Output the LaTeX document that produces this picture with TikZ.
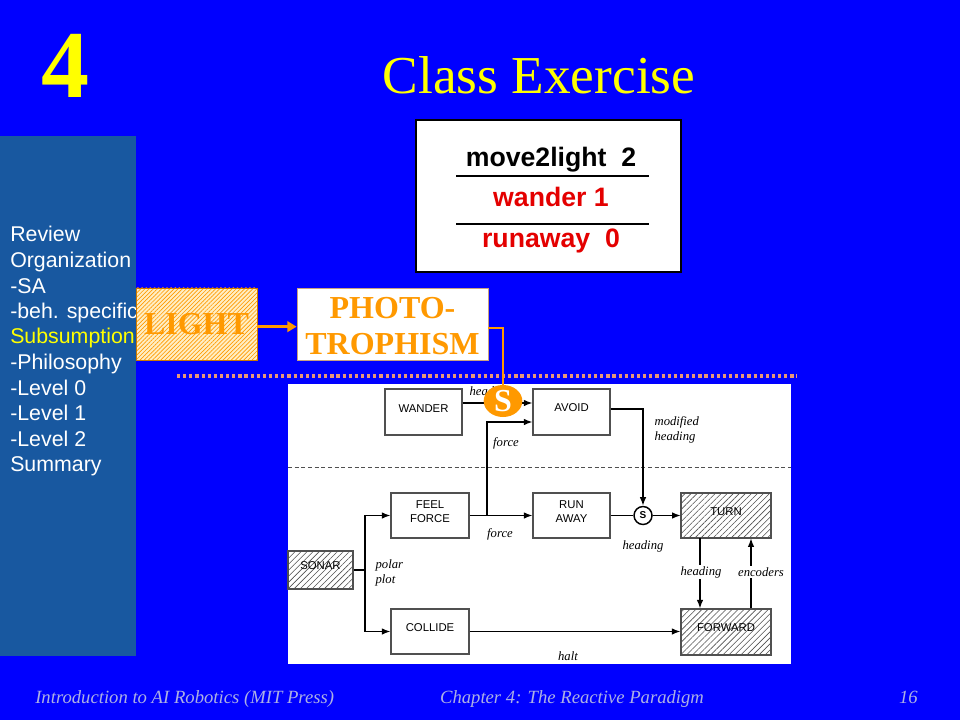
\documentclass[tikz,border=0pt]{standalone}
\usepackage{fontspec}
\setmainfont{Liberation Serif}
\setsansfont{Liberation Sans}
\usetikzlibrary{fit,shapes.geometric,patterns.meta,arrows.meta}
\definecolor{bgblue}{RGB}{0,0,255}
\definecolor{sidebar}{RGB}{24,88,160}
\definecolor{ttlyellow}{RGB}{255,255,0}
\definecolor{orng}{RGB}{255,153,0}
\definecolor{cream}{RGB}{255,238,196}
\definecolor{footcol}{RGB}{172,176,228}
\definecolor{redtxt}{RGB}{228,0,0}
\definecolor{dotcol}{RGB}{232,150,120}
\definecolor{dgray}{RGB}{80,80,80}
\definecolor{photoborder}{RGB}{200,160,130}
\tikzset{
  sb/.style={anchor=base west, font=\sffamily\fontsize{16}{19}\selectfont, text=white, inner sep=0},
  dbox/.style={draw=dgray, line width=0.8pt, inner sep=0, font=\sffamily\fontsize{8.5}{10}\selectfont, align=center},
  hbox/.style={dbox, pattern={Lines[angle=45,distance=3.2pt,line width=0.45pt]}, pattern color=dgray},
  arr/.style={line width=1.1pt, -{Latex[length=6.5pt,width=5pt]}},
  ln/.style={line width=1.1pt},
  lab/.style={font=\itshape\fontsize{9.5}{11}\selectfont, inner sep=1pt},
  toptxt/.style={anchor=base, font=\sffamily\bfseries\fontsize{20}{24}\selectfont, inner sep=0},
  foot/.style={font=\itshape\fontsize{14}{16}\selectfont, text=footcol, inner sep=0},
  orbig/.style={text=orng, font=\bfseries\fontsize{24}{27}\selectfont, align=center, inner sep=0}
}
\begin{document}
\begin{tikzpicture}[x=0.75pt,y=-0.75pt]
\useasboundingbox (0,0) rectangle (960,720);
\fill[bgblue] (0,0) rectangle (960,720);
% sidebar
\fill[sidebar] (0,136) rectangle (136,656);
\node[sb] (s1) at (10,242) {Review};
\node[sb] (s2) at (10,267.5) {Organization};
\node[sb] (s3) at (10,293) {-SA};
\node[sb] (s4) at (10,318.5) {-beh. specific};
\node[sb, text=ttlyellow] (s5) at (10,344) {Subsumption};
\node[sb] (s6) at (10,369.5) {-Philosophy};
\node[sb] (s7) at (10,395) {-Level 0};
\node[sb] (s8) at (10,420.5) {-Level 1};
\node[sb] (s9) at (10,446) {-Level 2};
\node[sb] (s10) at (10,471.5) {Summary};
% title
\node[anchor=base, text=ttlyellow, font=\bfseries\fontsize{72}{80}\selectfont, inner sep=0] (num) at (65,98) {4};
\node[anchor=base, text=ttlyellow, font=\fontsize{40}{48}\selectfont, inner sep=0] (title) at (539,94) {Class Exercise};
% top box
\node[fit={(416,120)(681,272)}, fill=white, draw=black, line width=0.8pt, inner sep=0] (tbox) {};
\node[toptxt] (t1) at (551,167) {move2light\ \ 2};
\node[toptxt, text=redtxt] (t2) at (551,207) {wander 1};
\node[toptxt, text=redtxt] (t3) at (551,248) {runaway\ \ 0};
\draw[line width=0.8pt] (456,176) -- (649,176);
\draw[line width=0.8pt] (456,224) -- (649,224);
% LIGHT and PHOTOTROPHISM
\node[fit={(136,288)(257,360)}, inner sep=0, draw=orng!80!black, line width=0.6pt,
      preaction={fill=cream}, pattern={Lines[angle=45,distance=2.2pt,line width=0.5pt]}, pattern color=orng] (light) {};
\node[orbig] (lightT) at (light.center) {LIGHT};
\node[fit={(297,288)(488,360)}, inner sep=0, fill=white, draw=photoborder, line width=0.6pt] (photo) {};
\node[orbig] (photoT) at ([yshift=-1.5pt]photo.center) {PHOTO-\\TROPHISM};
\draw[orng, line width=2.5pt, -{Triangle[length=7pt,width=8pt]}] ([yshift=-2pt]light.east) -- ([yshift=-2pt]photo.west);
% dotted line
\draw[dotcol, line width=2.4pt, dash pattern=on 2.4pt off 2.2pt] (177,376) -- (797,376);
% diagram
\fill[white] (288,384) rectangle (791,664);
\draw[dgray, line width=0.6pt, dash pattern=on 3pt off 2pt] (288,467) -- (791,467);
\node[dbox, fit={(385,389)(462,435)}] (wander) {WANDER};
\node[dbox, fit={(533,389)(610,435)}] (avoid) {AVOID};
\node[dbox, fit={(391,493)(469,538)}] (feel) {FEEL\\FORCE};
\node[dbox, fit={(533,493)(610,538)}] (runaway) {RUN\\AWAY};
\node[hbox, fit={(681,493)(771,538)}] (turn) {TURN};
\node[hbox, fit={(288,551)(353,589)}] (sonar) {SONAR};
\node[dbox, fit={(391,609)(469,654)}] (collide) {COLLIDE};
\node[hbox, fit={(681,609)(771,655)}] (forward) {FORWARD};
\node[circle, draw=black, line width=1.1pt, minimum size=13.5pt, inner sep=0,
      font=\sffamily\bfseries\fontsize{7.5}{8}\selectfont] (sc) at (643,515.5) {S};
\coordinate (br) at (487,515.5);
\coordinate (jn) at (365,570);
% connectors
\node[lab] (lhead1) at (490,392) {heading};
\draw[arr] (wander.east |- 0,403) -- (avoid.west |- 0,403);
\draw[arr] (avoid.east |- 0,409) -| (sc.north);
\draw[ln] (feel.east) -- (br);
\draw[arr] (br) -- (runaway.west);
\draw[arr] (br) |- (avoid.west |- 0,422);
\draw[ln] (runaway.east) -- (sc.west);
\draw[arr] (sc.east) -- (turn.west);
\draw[ln] (sonar.east |- jn) -- (jn);
\draw[arr] (jn) |- (feel.west);
\draw[arr] (jn) |- (collide.west);
\draw[arr] (collide.east) -- (forward.west |- collide.east);
\draw[arr] (turn.south -| 700,0) -- (forward.north -| 700,0);
\draw[arr] (forward.north -| 751,0) -- (turn.south -| 751,0);
% labels
\node[lab] (lforce1) at (506,443) {force};
\node[lab] (lforce2) at (500,534) {force};
\node[lab, align=left, anchor=west] (lmod) at (653,430) {modified\\heading};
\node[lab] (lhead2) at (643,546) {heading};
\node[lab, fill=white] (lhead3) at (701,572) {heading};
\node[lab, fill=white] (lenc) at (761,572) {encoders};
\node[lab, align=left, anchor=west] (lpolar) at (374,573) {polar\\plot};
\node[lab] (lhalt) at (568,656) {halt};
% orange S
\node[ellipse, fill=orng, minimum width=29pt, minimum height=24pt, inner sep=0, text=white,
      font=\bfseries\fontsize{24}{24}\selectfont] (bigS) at (503,401) {S};
\draw[orng, line width=2.2pt] ([yshift=-3pt]photo.east) -| (bigS.north);
% footer
\node[foot, anchor=base west] (f1) at (35,703) {Introduction to AI Robotics (MIT Press)};
\node[foot, anchor=base] (f2) at (572,703) {Chapter 4: The Reactive Paradigm};
\node[foot, anchor=base east] (f3) at (918,703) {16};
\end{tikzpicture}
\end{document}
